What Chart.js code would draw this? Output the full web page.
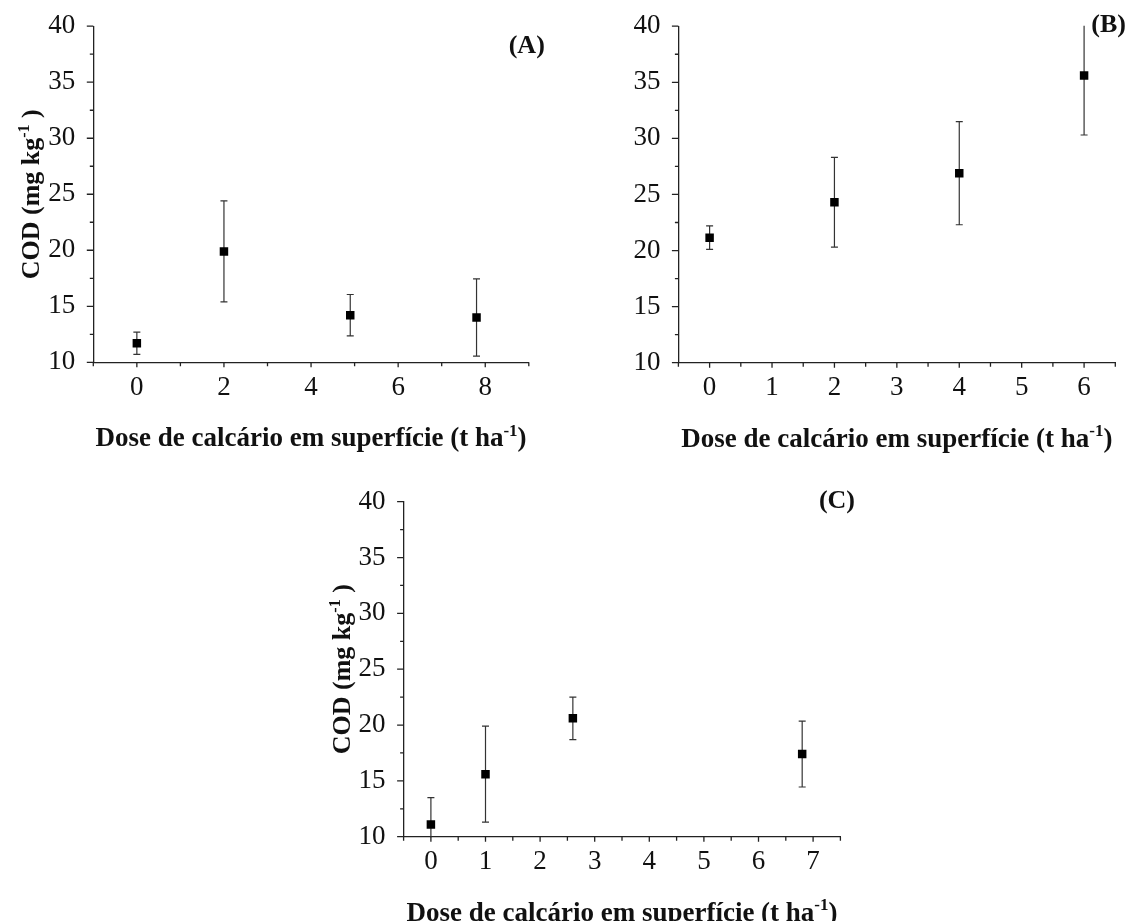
<!DOCTYPE html>
<html>
<head>
<meta charset="utf-8">
<script src="https://cdn.jsdelivr.net/npm/chart.js@4.4.1/dist/chart.umd.min.js"></script>
<style>
  body { margin: 0; background: #fff; }
  canvas { position: absolute; }
</style>
</head>
<body>
<canvas id="chartA" width="565" height="460" style="left:0;top:0"></canvas>
<canvas id="chartB" width="566" height="460" style="left:565px;top:0"></canvas>
<canvas id="chartC" width="570" height="461" style="left:300px;top:460px"></canvas>
<script>
// COD x dose de calcário, três áreas
const doseA = [0, 2, 4.9, 7.8];
const codA = [11.7, 19.9, 14.2, 14.0];
const sdA = [1.0, 4.5, 1.85, 3.45];

const doseB = [0, 2, 4, 6];
const codB = [21.15, 24.3, 26.9, 35.6];
const sdB = [1.05, 4.0, 4.6, 5.3];

const doseC = [0, 1, 2.6, 6.8];
const codC = [11.1, 15.6, 20.6, 17.4];
const sdC = [2.4, 4.3, 1.9, 2.95];

const yTicks = [10, 15, 20, 25, 30, 35, 40];
const xTicksA = [0, 2, 4, 6, 8];
const xTicksB = [0, 1, 2, 3, 4, 5, 6];
const xTicksC = [0, 1, 2, 3, 4, 5, 6, 7];

const xTitle = ['Dose de calcário em superfície (t ha', '-1', ')'];
const yTitle = ['COD (mg kg', '-1', ' )'];

const SERIF = '"Liberation Serif", "Times New Roman", serif';
const INK = '#111';
const AXIS = '#222';

// text with a raised "-1" part, centred on the current origin
function supText(ctx, parts, size) {
  const big = `bold ${size}px ${SERIF}`;
  const small = `bold ${Math.round(size * 0.62)}px ${SERIF}`;
  ctx.font = big;
  const w1 = ctx.measureText(parts[0]).width;
  const w3 = ctx.measureText(parts[2]).width;
  ctx.font = small;
  const w2 = ctx.measureText(parts[1]).width;
  let x = -(w1 + w2 + w3) / 2;
  ctx.textAlign = 'left';
  ctx.textBaseline = 'alphabetic';
  ctx.fillStyle = INK;
  ctx.font = big; ctx.fillText(parts[0], x, 0); x += w1;
  ctx.font = small; ctx.fillText(parts[1], x, -size * 0.38); x += w2;
  ctx.font = big; ctx.fillText(parts[2], x, 0);
}

// error bars, minor/major tick marks, axis titles and panel letter
function decorations(cfg) {
  return {
    id: 'decorations',
    beforeDatasetsDraw(chart) {
      const { ctx, chartArea: a, scales: { x, y } } = chart;
      ctx.save();
      ctx.beginPath();
      ctx.rect(a.left, a.top - 0.5, a.right - a.left, a.bottom - a.top + 1);
      ctx.clip();
      ctx.strokeStyle = '#333';
      ctx.lineWidth = 1.2;
      cfg.sd.forEach((e, i) => {
        const px = x.getPixelForValue(cfg.dose[i]);
        const yt = y.getPixelForValue(cfg.cod[i] + e);
        const yb = y.getPixelForValue(cfg.cod[i] - e);
        ctx.beginPath();
        ctx.moveTo(px, yt); ctx.lineTo(px, yb);
        ctx.moveTo(px - 3.5, yt); ctx.lineTo(px + 3.5, yt);
        ctx.moveTo(px - 3.5, yb); ctx.lineTo(px + 3.5, yb);
        ctx.stroke();
      });
      ctx.restore();
    },
    afterDraw(chart) {
      const { ctx, chartArea: a, scales: { x, y } } = chart;
      ctx.save();
      ctx.strokeStyle = AXIS;
      ctx.lineWidth = 1.3;
      ctx.beginPath();
      for (let v = x.min; v <= x.max + 1e-9; v += cfg.xMinor) {
        const major = cfg.xTicks.some(m => Math.abs(m - v) < 1e-6);
        const px = x.getPixelForValue(v);
        ctx.moveTo(px, a.bottom);
        ctx.lineTo(px, a.bottom + (major ? 5 : 4));
      }
      for (let v = y.min; v <= y.max + 1e-9; v += 2.5) {
        const major = yTicks.some(m => Math.abs(m - v) < 1e-6);
        const py = y.getPixelForValue(v);
        ctx.moveTo(a.left, py);
        ctx.lineTo(a.left - (major ? 6.5 : 3.5), py);
      }
      ctx.stroke();

      ctx.save();
      ctx.translate((a.left + a.right) / 2, a.bottom + 84);
      supText(ctx, xTitle, 27);
      ctx.restore();

      if (cfg.showYTitle) {
        ctx.save();
        ctx.translate(a.left - 54, (a.top + a.bottom) / 2);
        ctx.rotate(-Math.PI / 2);
        supText(ctx, yTitle, 26);
        ctx.restore();
      }

      ctx.font = `bold 26px ${SERIF}`;
      ctx.fillStyle = INK;
      ctx.textAlign = 'right';
      ctx.textBaseline = 'middle';
      ctx.fillText(cfg.letter, a.right + cfg.letterDx, a.top + cfg.letterDy);
      ctx.restore();
    }
  };
}

function makePanel(id, p) {
  const tickFont = { family: SERIF, size: 27 };
  return new Chart(document.getElementById(id), {
    type: 'scatter',
    data: {
      datasets: [{
        data: p.dose.map((d, i) => ({ x: d, y: p.cod[i] })),
        pointStyle: 'rect',
        pointRadius: 6,
        pointHoverRadius: 6,
        backgroundColor: '#000',
        borderWidth: 0
      }]
    },
    options: {
      responsive: false,
      animation: false,
      events: [],
      layout: { padding: p.padding },
      plugins: { legend: { display: false }, tooltip: { enabled: false } },
      scales: {
        x: {
          type: 'linear',
          min: p.xMin,
          max: p.xMax,
          afterBuildTicks: s => { s.ticks = p.xTicks.map(v => ({ value: v })); },
          afterFit: s => { s.height = 40; },
          grid: { display: false },
          border: { display: true, color: AXIS, width: 1.3 },
          ticks: { font: tickFont, color: INK, padding: 1, maxRotation: 0, autoSkip: false }
        },
        y: {
          min: 10,
          max: 40,
          afterBuildTicks: s => { s.ticks = yTicks.map(v => ({ value: v })); },
          afterFit: s => { s.width = 60; },
          grid: { display: false },
          border: { display: true, color: AXIS, width: 1.3 },
          ticks: { font: tickFont, color: INK, padding: 10, autoSkip: false }
        }
      }
    },
    plugins: [decorations(p)]
  });
}

makePanel('chartA', {
  dose: doseA, cod: codA, sd: sdA,
  xMin: -1, xMax: 9, xTicks: xTicksA, xMinor: 1,
  padding: { left: 33.3, right: 36.2, top: 24.5, bottom: 57.7 },
  letter: '(A)', letterDx: 16, letterDy: 20.5, showYTitle: true
});

makePanel('chartB', {
  dose: doseB, cod: codB, sd: sdB,
  xMin: -0.5, xMax: 6.5, xTicks: xTicksB, xMinor: 0.5,
  padding: { left: 53.4, right: 15.7, top: 25.5, bottom: 57.3 },
  letter: '(B)', letterDx: 10.7, letterDy: -0.5, showYTitle: false
});

makePanel('chartC', {
  dose: doseC, cod: codC, sd: sdC,
  xMin: -0.5, xMax: 7.5, xTicks: xTicksC, xMinor: 0.5,
  padding: { left: 43.6, right: 29.6, top: 41.7, bottom: 44.3 },
  letter: '(C)', letterDx: 14.6, letterDy: 0, showYTitle: true
});
</script>
</body>
</html>
